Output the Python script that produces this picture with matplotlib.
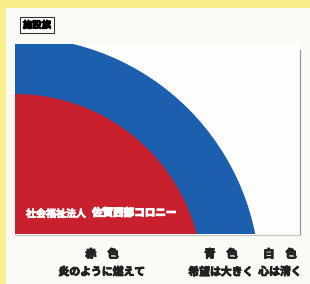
import matplotlib.pyplot as plt
import matplotlib.patheffects as pe
from matplotlib.patches import Rectangle, Circle

plt.rcParams['font.family'] = ['Noto Sans CJK JP', 'DejaVu Sans']

# flag bands: outer blue, inner red, over white cloth
band_names = ['青', '赤']
band_radius = [245, 188]
band_colors = ['#1b5fae', '#c8202d']

title = '施設旗'
org_small = '社会福祉法人'
org_large = '佐賀西部コロニー'
color_labels = ['赤　色', '青　色', '白　色']
color_mottos = ['炎のように燃えて', '希望は大きく', '心は清く']
label_x = [102, 221, 280]

fig = plt.figure(figsize=(3.1, 2.84), dpi=100)
fig.patch.set_facecolor('#fbfaf4')
ax = fig.add_axes([0, 0, 1, 1])
ax.set_xlim(0, 310)
ax.set_ylim(284, 0)
ax.axis('off')

# yellow page border at top and left
ax.add_patch(Rectangle((0, 0), 310, 8, color='#f8ef8c', lw=0))
ax.add_patch(Rectangle((0, 0), 6, 284, color='#f8ef8c', lw=0))

# flag cloth
fx0, fy0, fx1, fy1 = 15, 44, 300, 234
cloth = Rectangle((fx0, fy0), fx1 - fx0, fy1 - fy0, facecolor='#fdfdfb', edgecolor='none')
ax.add_patch(cloth)
ax.plot([fx1, fx1], [fy0 + 6, fy1], color='#9a9a9a', lw=0.9)
ax.plot([fx0, fx1], [fy1 + 0.5, fy1 + 0.5], color='#c8c8c8', lw=0.9)

for r, c in zip(band_radius, band_colors):
    circ = Circle((fx0, 282), r, facecolor=c, edgecolor='none')
    ax.add_patch(circ)
    circ.set_clip_path(cloth)


def bold(c, w=0.7):
    return [pe.withStroke(linewidth=w, foreground=c)]


ax.text(26, 214, org_small, color='white', fontsize=7.2, fontweight='bold',
        va='center', ha='left', path_effects=bold('white', 0.5))
ax.text(92, 213, org_large, color='white', fontsize=7.6, fontweight='bold',
        va='center', ha='left', path_effects=bold('white', 0.8))

# title box
ax.text(37, 25, title, fontsize=6.8, fontweight='bold', ha='center', va='center',
        path_effects=bold('black', 0.6),
        bbox=dict(boxstyle='square,pad=0.3', facecolor='white', edgecolor='#333333', lw=0.8))

for x, lab, motto in zip(label_x, color_labels, color_mottos):
    ax.text(x, 254, lab, fontsize=8, fontweight='bold', ha='center', va='center',
            color='#222222', path_effects=bold('#222222', 0.8))
    ax.text(x, 272, motto, fontsize=7.8, fontweight='bold', ha='center', va='center',
            color='#222222', path_effects=bold('#222222', 0.7))

fig.savefig('out.png', dpi=100, facecolor=fig.get_facecolor())
